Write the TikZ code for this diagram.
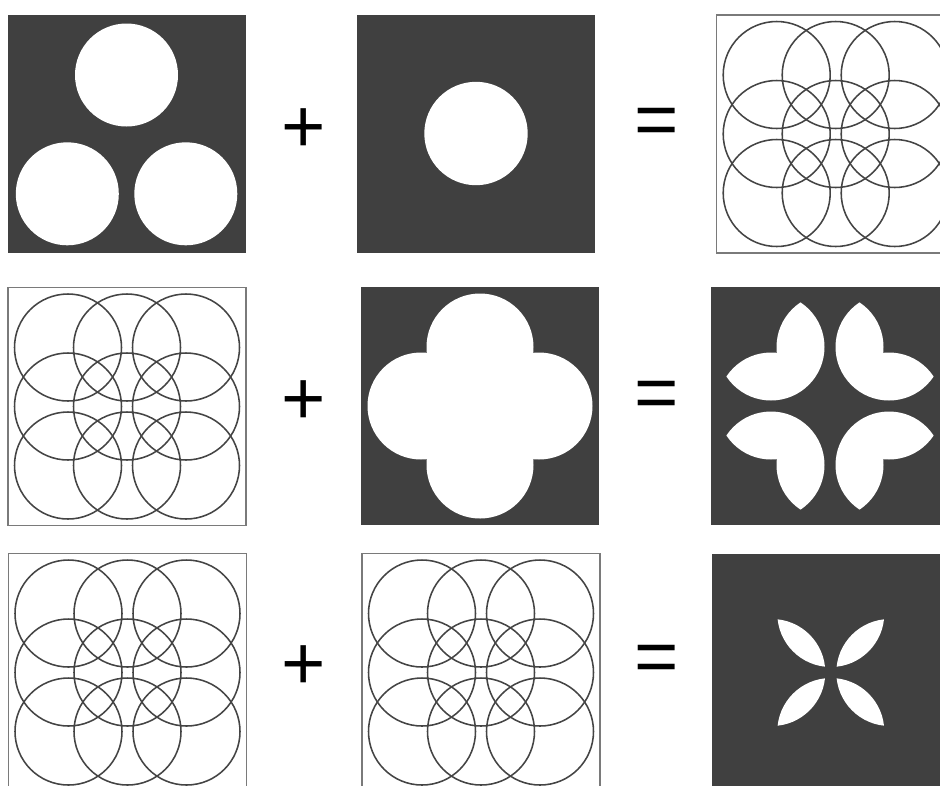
\documentclass[tikz,border=0pt]{standalone}
\usepackage{fontspec}
\setmainfont{Liberation Sans}
\definecolor{panelgray}{HTML}{404040}
\definecolor{ringgray}{HTML}{444444}
\definecolor{framegray}{HTML}{7A7A7A}
% 3x3 grid of overlapping rings round the current origin
\newcommand{\ringgrid}{%
  \foreach \i in {-1,0,1}
    \foreach \j in {-1,0,1}
      \draw[ring] (\i*59,\j*59) circle[radius=53.5];}
% the cross of five discs
\newcommand{\crossdiscs}{%
  \fill[white] (0,0) circle[radius=53.5] (59,0) circle[radius=53.5]
    (-59,0) circle[radius=53.5] (0,59) circle[radius=53.5] (0,-59) circle[radius=53.5];}
\begin{document}
\begin{tikzpicture}[x=0.025cm, y=-0.025cm,
  frame/.style={draw=framegray, line width=1pt, fill=white},
  dark/.style={fill=panelgray},
  ring/.style={draw=ringgray, line width=1.1pt},
  op/.style={font=\fontsize{54}{60}\selectfont, inner sep=0pt}]
\clip (0,0) rectangle (940,785);
% panel centres
\coordinate (a1) at (126.5,133.5);
\coordinate (a2) at (476,133.5);
\coordinate (a3) at (835.7,134);
\coordinate (b1) at (127,406.5);
\coordinate (b2) at (480,406);
\coordinate (b3) at (830,406);
\coordinate (c1) at (127.5,672.5);
\coordinate (c2) at (481,672.5);
\coordinate (c3) at (830.8,672.5);

% first row
\begin{scope}[shift={(a1)}]
  \fill[dark] (-119,-119) rectangle (119,119);
  \fill[white] (0,-58.5) circle[radius=51.5] (-59.2,60.3) circle[radius=51.5]
    (59.3,60.3) circle[radius=51.5];
\end{scope}
\begin{scope}[shift={(a2)}]
  \fill[dark] (-119,-119) rectangle (119,119);
  \fill[white] (0,0) circle[radius=51.7];
\end{scope}
\begin{scope}[shift={(a3)}]
  \draw[frame] (-119,-119) rectangle (119,119);
  \ringgrid
\end{scope}

% second row
\begin{scope}[shift={(b1)}]
  \draw[frame] (-119,-119) rectangle (119,119);
  \ringgrid
\end{scope}
\begin{scope}[shift={(b2)}]
  \fill[dark] (-119,-119) rectangle (119,119);
  \crossdiscs
\end{scope}
\begin{scope}[shift={(b3)}]
  \fill[dark] (-119,-119) rectangle (119,119);
  \foreach \sx/\sy in {-1/-1,1/-1,-1/1,1/1}{
    \begin{scope}
      \clip (\sx*59,\sy*59) circle[radius=53.5];
      \crossdiscs
    \end{scope}}
\end{scope}

% third row
\begin{scope}[shift={(c1)}]
  \draw[frame] (-119,-119) rectangle (119,119);
  \ringgrid
\end{scope}
\begin{scope}[shift={(c2)}]
  \draw[frame] (-119,-119) rectangle (119,119);
  \ringgrid
\end{scope}
\begin{scope}[shift={(c3)}]
  \fill[dark] (-119,-119) rectangle (119,119);
  \foreach \sx/\sy in {-1/-1,1/-1,-1/1,1/1}{
    \begin{scope}
      \clip (\sx*59,0) circle[radius=53.5];
      \fill[white] (0,\sy*59) circle[radius=53.5];
    \end{scope}}
\end{scope}

% operators
\node[op] (plus1) at (304,131) {+};
\node[op] (eq1) at (657,126.5) {=};
\node[op] (plus2) at (304,403) {+};
\node[op] (eq2) at (657,400) {=};
\node[op] (plus3) at (304,668) {+};
\node[op] (eq3) at (657,664) {=};
\end{tikzpicture}
\end{document}
